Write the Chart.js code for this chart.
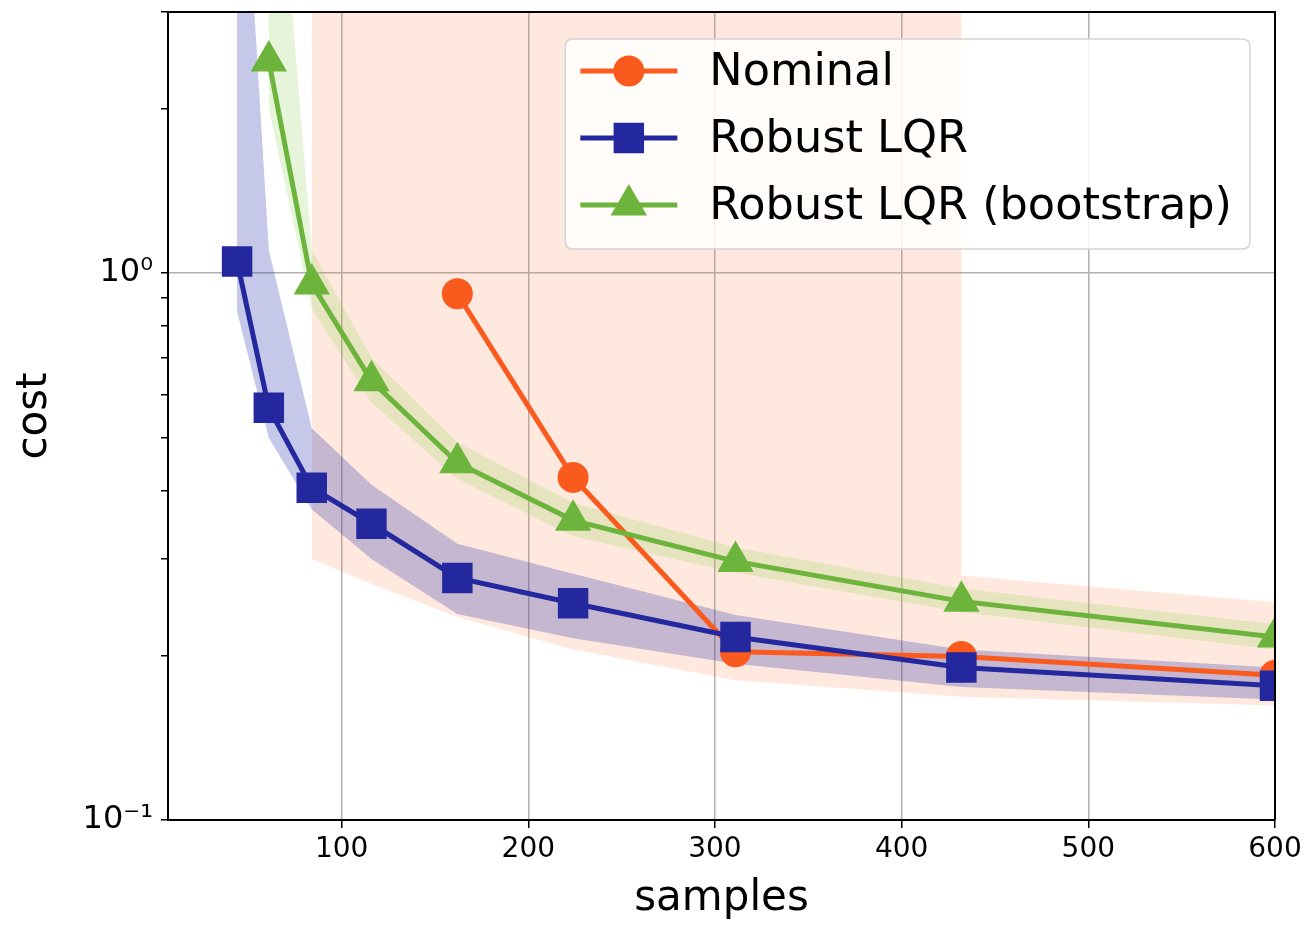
<!DOCTYPE html>
<html>
<head>
<meta charset="utf-8">
<script src="https://cdn.jsdelivr.net/npm/chart.js@4.4.1/dist/chart.umd.min.js"></script>
<style>
  html, body { margin: 0; padding: 0; background: #fff; }
  #wrap { width: 1313px; height: 926px; }
</style>
</head>
<body>
<div id="wrap"><canvas id="costChart" width="1313" height="926"></canvas></div>
<script>
// number of samples, shared by all series
const samples = [44, 61, 84, 116, 162, 224, 311, 432, 600];

// mean cost (null = no point)
const nominalCost   = [null, null, null, null, 0.916, 0.423, 0.203, 0.199, 0.184];
const robustCost    = [1.05, 0.567, 0.405, 0.348, 0.277, 0.249, 0.216, 0.190, 0.176];
const bootstrapCost = [null, 2.44, 0.955, 0.635, 0.450, 0.353, 0.297, 0.251, 0.216];

// spread bands, 10 = runs off the top of the axis
const robustLo  = [0.85, 0.50, 0.37, 0.30, 0.238, 0.215, 0.193, 0.175, 0.166];
const robustHi  = [10, 1.10, 0.52, 0.41, 0.320, 0.282, 0.237, 0.205, 0.190];
const bootLo    = [null, 2.0, 0.86, 0.58, 0.42, 0.33, 0.283, 0.240, 0.205];
const bootHi    = [null, 10, 1.10, 0.70, 0.49, 0.38, 0.315, 0.265, 0.228];
const nominalLo = [null, null, 0.30, 0.27, 0.235, 0.205, 0.180, 0.168, 0.162];
// nominal upper edge is unbounded up to 432 samples, then drops
const nominalHiX = [84, 116, 162, 224, 311, 432, 432, 600];
const nominalHiY = [10, 10, 10, 10, 10, 10, 0.28, 0.25];

const xTicks = [100, 200, 300, 400, 500, 600];
const yTicks = [0.1, 0.2, 0.3, 0.4, 0.5, 0.6, 0.7, 0.8, 0.9, 1, 2, 3];
const yLabels = { 0.1: "10\u207B\u00B9", 1: "10\u2070" };

const ORANGE = "#fa5a1e";
const BLUE = "#24289e";
const GREEN = "#6cb43c";
const FONT = '"DejaVu Sans", sans-serif';

function pts(xs, ys) {
    return xs.map((x, i) => ({ x: x, y: ys[i] })).filter(p => p.y !== null);
}

function band(data, color, order, fill) {
    return {
        data: data,
        borderWidth: 0,
        pointRadius: 0,
        backgroundColor: color,
        fill: fill,
        order: order,
    };
}

function noPad(s) {
    s.paddingTop = 0;
    s.paddingBottom = 0;
    s.paddingLeft = 0;
    s.paddingRight = 0;
}

// matplotlib style legend box, drawn inside the plot
const boxLegend = {
    id: "boxLegend",
    afterDatasetsDraw(chart) {
        const { ctx, chartArea } = chart;
        const items = chart.data.datasets.filter(d => d.inLegend);
        ctx.save();
        ctx.font = "44.6px " + FONT;
        const textW = Math.max(...items.map(d => ctx.measureText(d.label).width));
        const handle = 97, padL = 15, gap = 32, padR = 18, rowH = 67, padT = 32;
        const w = padL + handle + gap + textW + padR;
        const h = padT + rowH * (items.length - 1) + 44;
        const right = chartArea.right - 25;
        const left = right - w;
        const top = chartArea.top + 27;
        const r = 8;
        ctx.beginPath();
        ctx.moveTo(left + r, top);
        ctx.lineTo(right - r, top);
        ctx.quadraticCurveTo(right, top, right, top + r);
        ctx.lineTo(right, top + h - r);
        ctx.quadraticCurveTo(right, top + h, right - r, top + h);
        ctx.lineTo(left + r, top + h);
        ctx.quadraticCurveTo(left, top + h, left, top + h - r);
        ctx.lineTo(left, top + r);
        ctx.quadraticCurveTo(left, top, left + r, top);
        ctx.closePath();
        ctx.fillStyle = "rgba(255,255,255,0.85)";
        ctx.fill();
        ctx.strokeStyle = "#d4d4d4";
        ctx.lineWidth = 1.5;
        ctx.stroke();

        items.forEach((d, i) => {
            const y = top + padT + i * rowH;
            const x0 = left + padL;
            ctx.strokeStyle = d.borderColor;
            ctx.lineWidth = d.borderWidth;
            ctx.beginPath();
            ctx.moveTo(x0, y);
            ctx.lineTo(x0 + handle, y);
            ctx.stroke();
            ctx.fillStyle = d.pointBackgroundColor;
            ctx.strokeStyle = d.pointBackgroundColor;
            Chart.helpers.drawPoint(ctx, {
                pointStyle: d.pointStyle, rotation: 0,
                radius: d.pointRadius, borderWidth: 1,
            }, x0 + handle / 2, y);
            ctx.fillStyle = "#000";
            ctx.textBaseline = "middle";
            ctx.textAlign = "left";
            ctx.fillText(d.label, x0 + handle + gap, y + 2);
        });
        ctx.restore();
    },
};

// top and right spines
const frame = {
    id: "frame",
    afterDraw(chart) {
        const { ctx, chartArea: a } = chart;
        ctx.save();
        ctx.strokeStyle = "#000";
        ctx.lineWidth = 2;
        ctx.beginPath();
        ctx.moveTo(a.left, a.top);
        ctx.lineTo(a.right, a.top);
        ctx.lineTo(a.right, a.bottom);
        ctx.stroke();
        ctx.restore();
    },
};

const ctx = document.getElementById("costChart");
new Chart(ctx, {
    type: "line",
    data: {
        datasets: [
            {
                label: "Nominal", inLegend: true,
                data: pts(samples, nominalCost),
                borderColor: ORANGE, borderWidth: 5,
                pointStyle: "circle", pointRadius: 13,
                pointBackgroundColor: ORANGE, pointBorderColor: ORANGE,
                fill: false, order: 3,
            },
            {
                label: "Robust LQR", inLegend: true,
                data: pts(samples, robustCost),
                borderColor: BLUE, borderWidth: 5,
                pointStyle: "rect", pointRadius: 18,
                pointBackgroundColor: BLUE, pointBorderColor: BLUE,
                fill: false, order: 2,
            },
            {
                label: "Robust LQR (bootstrap)", inLegend: true,
                data: pts(samples, bootstrapCost),
                borderColor: GREEN, borderWidth: 5,
                pointStyle: "triangle", pointRadius: 16,
                pointBackgroundColor: GREEN, pointBorderColor: GREEN,
                fill: false, order: 1,
            },
            band(pts(samples, nominalLo), "rgba(255,120,60,0.17)", 12, false),
            band(pts(nominalHiX, nominalHiY), "rgba(255,120,60,0.17)", 12, 3),
            band(pts(samples, robustLo), "rgba(40,50,170,0.27)", 10, false),
            band(pts(samples, robustHi), "rgba(40,50,170,0.27)", 10, 5),
            band(pts(samples, bootLo), "rgba(140,210,80,0.22)", 11, false),
            band(pts(samples, bootHi), "rgba(140,210,80,0.22)", 11, 7),
        ],
    },
    options: {
        responsive: false,
        animation: false,
        layout: { autoPadding: false, padding: { left: 0, right: 38, top: 12, bottom: 0 } },
        plugins: {
            legend: { display: false },
            tooltip: { enabled: false },
        },
        scales: {
            x: {
                type: "linear",
                min: 7,
                max: 600,
                afterBuildTicks: (s) => { s.ticks = xTicks.map(v => ({ value: v })); },
                afterFit: (s) => { s.height = 106; noPad(s); },
                border: { color: "#000", width: 2 },
                grid: { color: "#b0b0b0", lineWidth: 1.5, tickColor: "#000", tickLength: 8, tickWidth: 1.5 },
                ticks: { color: "#000", font: { family: FONT, size: 28 }, padding: 5, maxRotation: 0 },
                title: { display: true, text: "samples", color: "#000", font: { family: FONT, size: 42 }, padding: { top: 0, bottom: 2 } },
            },
            y: {
                type: "logarithmic",
                min: 0.1,
                max: 3,
                afterBuildTicks: (s) => { s.ticks = yTicks.map(v => ({ value: v })); },
                afterFit: (s) => { s.width = 168; noPad(s); },
                border: { color: "#000", width: 2 },
                grid: {
                    color: (c) => (c.tick && yLabels[c.tick.value] ? "#b0b0b0" : "rgba(0,0,0,0)"),
                    lineWidth: 1.5, tickColor: "#000", tickLength: 7, tickWidth: 1.5,
                },
                ticks: {
                    autoSkip: false,
                    color: "#000",
                    font: { family: FONT, size: 32 },
                    padding: 8,
                    callback: (v) => yLabels[v] || "",
                },
                title: { display: true, text: "cost", color: "#000", font: { family: FONT, size: 42 }, padding: { top: 10, bottom: 0 } },
            },
        },
    },
    plugins: [boxLegend, frame],
});
</script>
</body>
</html>
